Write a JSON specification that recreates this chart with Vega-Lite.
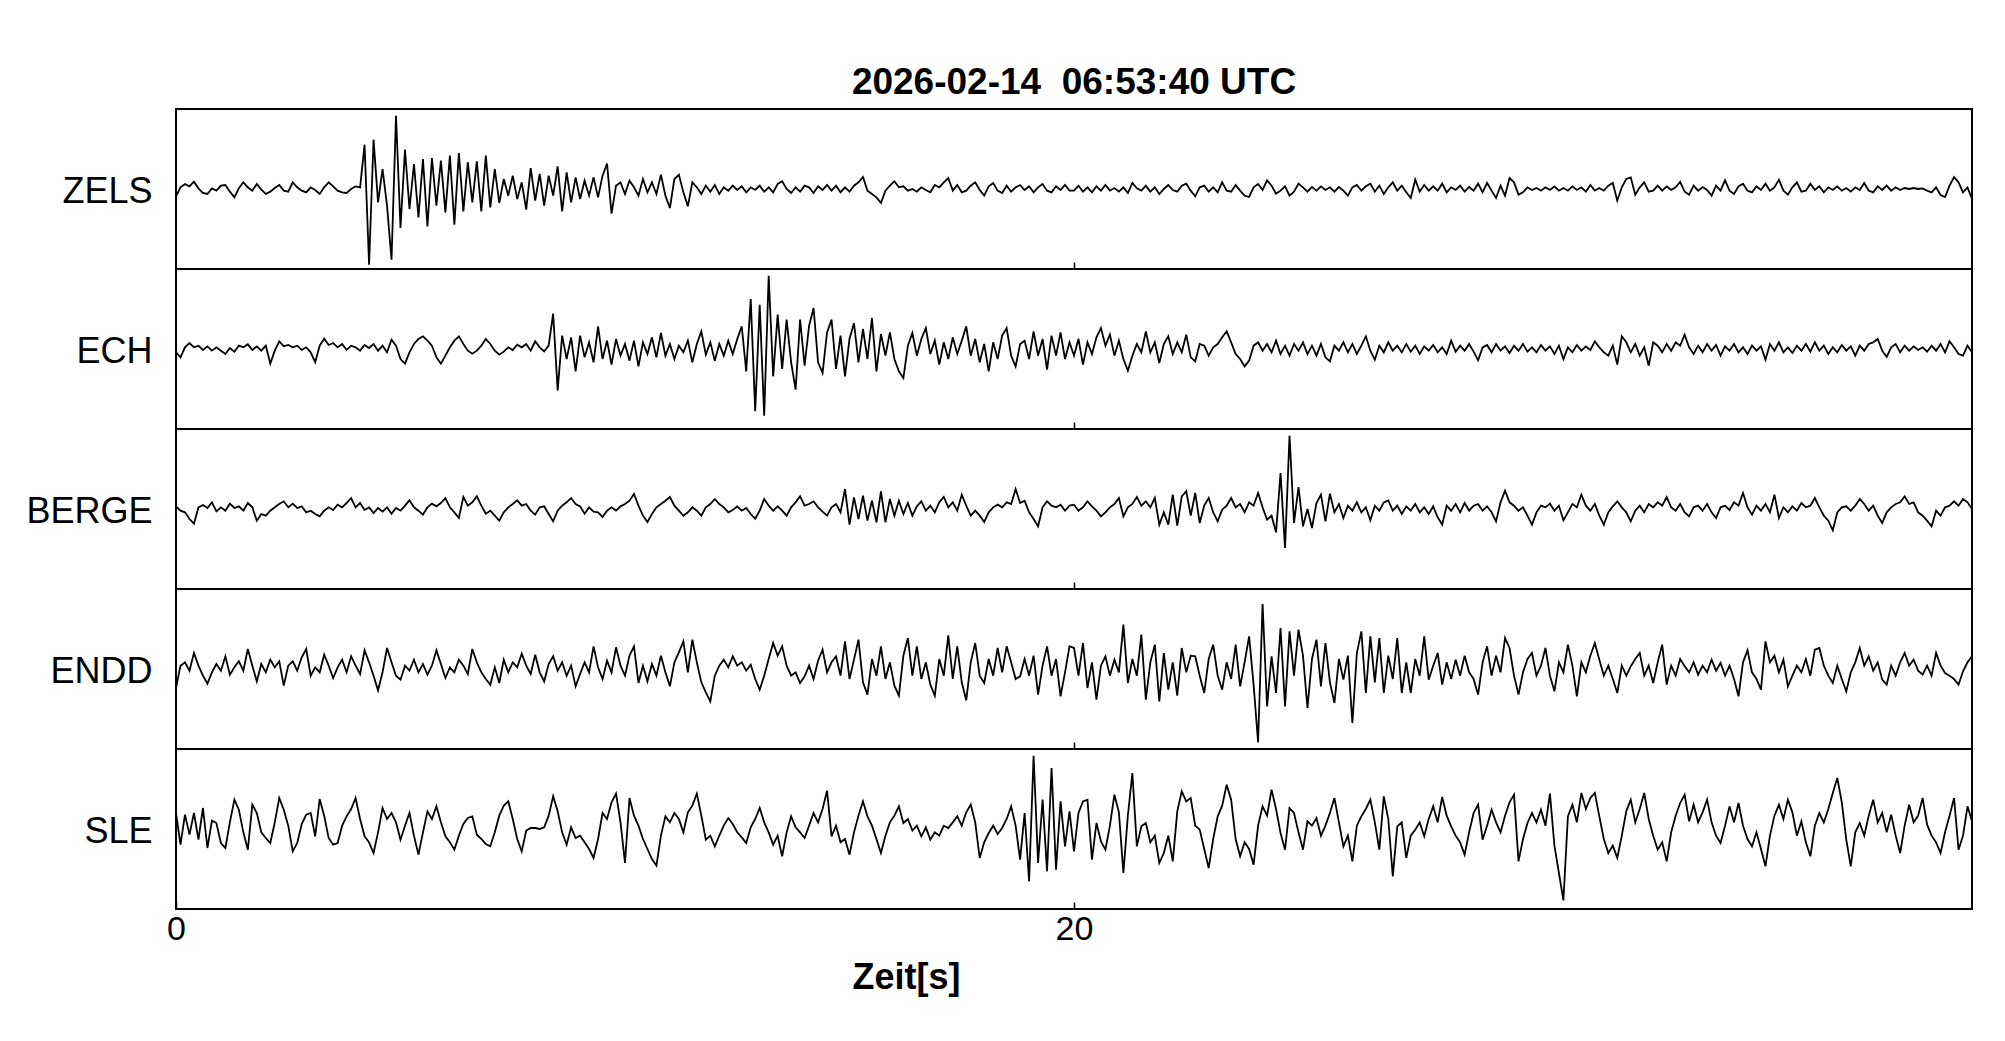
{
"$schema": "https://vega.github.io/schema/vega-lite/v6.json",
"background": "white",
"padding": {"left": 24, "top": 64, "right": 20, "bottom": 20},
"title": {"text": "2026-02-14\u00a0 06:53:40 UTC", "font": "Liberation Sans", "fontSize": 37, "fontWeight": "bold", "color": "black", "anchor": "middle", "frame": "group", "baseline": "alphabetic", "offset": -23},
"datasets": {"w": [
{"t":0,"z":-22,"e":-10,"b":8,"n":-57,"s":48},
{"t":0.1,"z":5,"e":-25,"b":-5,"n":10,"s":-47},
{"t":0.2,"z":15,"e":5,"b":-10,"n":20,"s":43},
{"t":0.3,"z":8,"e":18,"b":-30,"n":-5,"s":-17},
{"t":0.4,"z":22,"e":5,"b":-44,"n":48,"s":48},
{"t":0.5,"z":2,"e":10,"b":5,"n":10,"s":-32},
{"t":0.6,"z":-12,"e":-3,"b":12,"n":-20,"s":63},
{"t":0.7,"z":-15,"e":8,"b":3,"n":-44,"s":-57},
{"t":0.8,"z":2,"e":-5,"b":20,"n":-10,"s":25},
{"t":0.9,"z":-5,"e":5,"b":-7,"n":15,"s":18},
{"t":1,"z":10,"e":-5,"b":5,"n":-5,"s":-42},
{"t":1.1,"z":12,"e":-15,"b":-5,"n":38,"s":-57},
{"t":1.2,"z":-8,"e":3,"b":16,"n":-17,"s":20},
{"t":1.3,"z":-25,"e":-8,"b":3,"n":5,"s":88},
{"t":1.4,"z":2,"e":10,"b":8,"n":23,"s":58},
{"t":1.5,"z":20,"e":5,"b":-5,"n":-5,"s":-10},
{"t":1.6,"z":5,"e":14,"b":18,"n":60,"s":-62},
{"t":1.7,"z":-5,"e":-3,"b":5,"n":10,"s":73},
{"t":1.8,"z":15,"e":8,"b":-35,"n":-37,"s":48},
{"t":1.9,"z":-2,"e":-5,"b":-15,"n":15,"s":-10},
{"t":2,"z":-15,"e":10,"b":-20,"n":-10,"s":-27},
{"t":2.1,"z":-8,"e":-44,"b":-5,"n":28,"s":-42},
{"t":2.2,"z":3,"e":-5,"b":5,"n":5,"s":20},
{"t":2.3,"z":12,"e":23,"b":15,"n":23,"s":93},
{"t":2.4,"z":-5,"e":8,"b":23,"n":-50,"s":58},
{"t":2.5,"z":-8,"e":12,"b":5,"n":10,"s":10},
{"t":2.6,"z":20,"e":5,"b":16,"n":23,"s":-67},
{"t":2.7,"z":5,"e":10,"b":3,"n":-5,"s":-42},
{"t":2.8,"z":-5,"e":-3,"b":8,"n":35,"s":15},
{"t":2.9,"z":-10,"e":5,"b":-10,"n":60,"s":43},
{"t":3,"z":5,"e":-10,"b":-5,"n":-20,"s":48},
{"t":3.1,"z":-3,"e":-40,"b":-15,"n":5,"s":-22},
{"t":3.2,"z":-15,"e":10,"b":-22,"n":-10,"s":90},
{"t":3.3,"z":5,"e":31,"b":-5,"n":43,"s":40},
{"t":3.4,"z":20,"e":12,"b":5,"n":10,"s":-27},
{"t":3.5,"z":8,"e":18,"b":-3,"n":-27,"s":-47},
{"t":3.6,"z":-5,"e":5,"b":13,"n":5,"s":-42},
{"t":3.7,"z":-10,"e":15,"b":5,"n":28,"s":10},
{"t":3.8,"z":-12,"e":-3,"b":18,"n":-10,"s":38},
{"t":3.9,"z":0,"e":10,"b":33,"n":38,"s":60},
{"t":4,"z":8,"e":5,"b":5,"n":10,"s":93},
{"t":4.1,"z":5,"e":-5,"b":18,"n":-15,"s":30},
{"t":4.2,"z":133,"e":12,"b":-3,"n":56,"s":-22},
{"t":4.3,"z":-227,"e":3,"b":5,"n":20,"s":-40},
{"t":4.4,"z":148,"e":15,"b":-12,"n":-20,"s":-72},
{"t":4.5,"z":-40,"e":-5,"b":3,"n":-64,"s":-10},
{"t":4.6,"z":60,"e":10,"b":-8,"n":-10,"s":63},
{"t":4.7,"z":-50,"e":-10,"b":5,"n":63,"s":30},
{"t":4.8,"z":-212,"e":28,"b":-14,"n":20,"s":48},
{"t":4.9,"z":220,"e":10,"b":3,"n":-20,"s":20},
{"t":5,"z":-117,"e":-30,"b":-5,"n":-32,"s":-32},
{"t":5.1,"z":118,"e":-44,"b":10,"n":10,"s":10},
{"t":5.2,"z":-60,"e":-10,"b":26,"n":-5,"s":48},
{"t":5.3,"z":75,"e":15,"b":5,"n":28,"s":-20},
{"t":5.4,"z":-85,"e":30,"b":-5,"n":-10,"s":-77},
{"t":5.5,"z":90,"e":38,"b":-17,"n":15,"s":-10},
{"t":5.6,"z":-112,"e":25,"b":5,"n":-17,"s":53},
{"t":5.7,"z":93,"e":10,"b":16,"n":10,"s":30},
{"t":5.8,"z":-50,"e":-25,"b":8,"n":56,"s":68},
{"t":5.9,"z":85,"e":-44,"b":18,"n":15,"s":20},
{"t":6,"z":-70,"e":-20,"b":33,"n":-27,"s":-22},
{"t":6.1,"z":100,"e":5,"b":5,"n":5,"s":-40},
{"t":6.2,"z":-107,"e":25,"b":-10,"n":-10,"s":-62},
{"t":6.3,"z":108,"e":38,"b":-27,"n":28,"s":-20},
{"t":6.4,"z":-67,"e":15,"b":36,"n":10,"s":15},
{"t":6.5,"z":80,"e":-5,"b":10,"n":-15,"s":33},
{"t":6.6,"z":-40,"e":-14,"b":20,"n":60,"s":38},
{"t":6.7,"z":83,"e":-5,"b":38,"n":20,"s":-17},
{"t":6.8,"z":-67,"e":10,"b":10,"n":-10,"s":-30},
{"t":6.9,"z":100,"e":30,"b":-14,"n":-30,"s":-45},
{"t":7,"z":-55,"e":15,"b":-5,"n":-47,"s":-52},
{"t":7.1,"z":60,"e":-5,"b":-20,"n":5,"s":-10},
{"t":7.2,"z":-42,"e":-17,"b":-35,"n":-42,"s":40},
{"t":7.3,"z":30,"e":-8,"b":-10,"n":28,"s":70},
{"t":7.4,"z":-20,"e":5,"b":5,"n":-10,"s":83},
{"t":7.5,"z":40,"e":-3,"b":15,"n":20,"s":30},
{"t":7.6,"z":-30,"e":13,"b":26,"n":5,"s":-30},
{"t":7.7,"z":20,"e":5,"b":10,"n":46,"s":-67},
{"t":7.8,"z":-62,"e":15,"b":15,"n":10,"s":-5},
{"t":7.9,"z":63,"e":-5,"b":-5,"n":-15,"s":3},
{"t":8,"z":-35,"e":23,"b":-17,"n":43,"s":3},
{"t":8.1,"z":45,"e":5,"b":5,"n":-10,"s":0},
{"t":8.2,"z":-50,"e":-7,"b":8,"n":-37,"s":5},
{"t":8.3,"z":40,"e":10,"b":-15,"n":15,"s":40},
{"t":8.4,"z":-20,"e":106,"b":-37,"n":38,"s":98},
{"t":8.5,"z":68,"e":-124,"b":-5,"n":-5,"s":53},
{"t":8.6,"z":-67,"e":40,"b":10,"n":20,"s":-10},
{"t":8.7,"z":50,"e":-30,"b":20,"n":-20,"s":-47},
{"t":8.8,"z":-40,"e":35,"b":33,"n":10,"s":5},
{"t":8.9,"z":35,"e":-67,"b":15,"n":-52,"s":-27},
{"t":9,"z":-30,"e":40,"b":8,"n":-15,"s":-20},
{"t":9.1,"z":25,"e":-25,"b":-14,"n":20,"s":-40},
{"t":9.2,"z":-20,"e":20,"b":5,"n":-10,"s":-60},
{"t":9.3,"z":35,"e":-40,"b":-8,"n":68,"s":-87},
{"t":9.4,"z":-25,"e":68,"b":-10,"n":5,"s":-30},
{"t":9.5,"z":40,"e":-30,"b":-24,"n":-30,"s":48},
{"t":9.6,"z":76,"e":25,"b":-5,"n":25,"s":30},
{"t":9.7,"z":-74,"e":-47,"b":5,"n":-10,"s":80},
{"t":9.8,"z":10,"e":30,"b":-5,"n":65,"s":106},
{"t":9.9,"z":20,"e":-20,"b":8,"n":10,"s":20},
{"t":10,"z":-15,"e":15,"b":15,"n":-20,"s":-102},
{"t":10.1,"z":25,"e":-35,"b":25,"n":40,"s":93},
{"t":10.2,"z":5,"e":25,"b":45,"n":68,"s":40},
{"t":10.3,"z":-20,"e":-52,"b":10,"n":-42,"s":10},
{"t":10.4,"z":30,"e":20,"b":-20,"n":10,"s":-30},
{"t":10.5,"z":-10,"e":-15,"b":-39,"n":-37,"s":-60},
{"t":10.6,"z":20,"e":35,"b":-15,"n":15,"s":-90},
{"t":10.7,"z":-15,"e":-25,"b":5,"n":-20,"s":-110},
{"t":10.8,"z":43,"e":48,"b":15,"n":40,"s":-20},
{"t":10.9,"z":-20,"e":-20,"b":25,"n":-10,"s":38},
{"t":11,"z":-57,"e":15,"b":36,"n":-52,"s":20},
{"t":11.1,"z":30,"e":-30,"b":10,"n":20,"s":48},
{"t":11.2,"z":43,"e":10,"b":-5,"n":50,"s":30},
{"t":11.3,"z":-10,"e":-10,"b":-20,"n":83,"s":-10},
{"t":11.4,"z":-52,"e":25,"b":-10,"n":-10,"s":50},
{"t":11.5,"z":20,"e":-40,"b":5,"n":88,"s":70},
{"t":11.6,"z":5,"e":15,"b":-5,"n":20,"s":106},
{"t":11.7,"z":-15,"e":53,"b":-20,"n":-40,"s":40},
{"t":11.8,"z":10,"e":-17,"b":5,"n":-70,"s":-32},
{"t":11.9,"z":-8,"e":20,"b":15,"n":-97,"s":-20},
{"t":12,"z":12,"e":-35,"b":30,"n":-20,"s":-52},
{"t":12.1,"z":-15,"e":15,"b":15,"n":10,"s":-20},
{"t":12.2,"z":5,"e":-20,"b":5,"n":28,"s":10},
{"t":12.3,"z":-5,"e":25,"b":-10,"n":5,"s":33},
{"t":12.4,"z":10,"e":-15,"b":-3,"n":38,"s":15},
{"t":12.5,"z":-3,"e":30,"b":8,"n":10,"s":-10},
{"t":12.6,"z":8,"e":68,"b":-5,"n":20,"s":-25},
{"t":12.7,"z":-10,"e":-67,"b":3,"n":-5,"s":-42},
{"t":12.8,"z":5,"e":150,"b":-15,"n":13,"s":5},
{"t":12.9,"z":-3,"e":-187,"b":-29,"n":-30,"s":30},
{"t":13,"z":10,"e":133,"b":-5,"n":-62,"s":63},
{"t":13.1,"z":-8,"e":-200,"b":30,"n":-20,"s":20},
{"t":13.2,"z":5,"e":220,"b":10,"n":30,"s":-10},
{"t":13.3,"z":-10,"e":-82,"b":-5,"n":78,"s":-47},
{"t":13.4,"z":15,"e":103,"b":8,"n":40,"s":-20},
{"t":13.5,"z":23,"e":-60,"b":-5,"n":68,"s":-82},
{"t":13.6,"z":0,"e":88,"b":-20,"n":10,"s":-10},
{"t":13.7,"z":-12,"e":-40,"b":5,"n":-20,"s":38},
{"t":13.8,"z":5,"e":-122,"b":20,"n":-10,"s":5},
{"t":13.9,"z":-8,"e":88,"b":38,"n":-42,"s":-10},
{"t":14,"z":10,"e":-50,"b":10,"n":-22,"s":-27},
{"t":14.1,"z":5,"e":70,"b":15,"n":10,"s":10},
{"t":14.2,"z":-12,"e":123,"b":23,"n":-30,"s":48},
{"t":14.3,"z":8,"e":-40,"b":5,"n":25,"s":20},
{"t":14.4,"z":-3,"e":-72,"b":-8,"n":58,"s":60},
{"t":14.5,"z":12,"e":50,"b":-20,"n":-10,"s":115},
{"t":14.6,"z":-5,"e":88,"b":5,"n":20,"s":-22},
{"t":14.7,"z":10,"e":-60,"b":15,"n":38,"s":10},
{"t":14.8,"z":-10,"e":40,"b":-10,"n":-20,"s":-40},
{"t":14.9,"z":5,"e":-82,"b":60,"n":83,"s":-30},
{"t":15,"z":-8,"e":30,"b":-47,"n":-30,"s":-77},
{"t":15.1,"z":10,"e":78,"b":35,"n":28,"s":-10},
{"t":15.2,"z":20,"e":-40,"b":-30,"n":88,"s":40},
{"t":15.3,"z":36,"e":60,"b":40,"n":-40,"s":83},
{"t":15.4,"z":-5,"e":-30,"b":-35,"n":-77,"s":38},
{"t":15.5,"z":-15,"e":93,"b":25,"n":30,"s":10},
{"t":15.6,"z":-25,"e":-67,"b":-40,"n":-20,"s":-30},
{"t":15.7,"z":-42,"e":45,"b":53,"n":68,"s":-72},
{"t":15.8,"z":-5,"e":-20,"b":-40,"n":-30,"s":-20},
{"t":15.9,"z":10,"e":50,"b":30,"n":20,"s":20},
{"t":16,"z":23,"e":-30,"b":-20,"n":-50,"s":40},
{"t":16.1,"z":5,"e":-67,"b":25,"n":-80,"s":68},
{"t":16.2,"z":8,"e":-87,"b":-15,"n":40,"s":18},
{"t":16.3,"z":-5,"e":10,"b":18,"n":93,"s":30},
{"t":16.4,"z":0,"e":48,"b":-20,"n":-20,"s":-5},
{"t":16.5,"z":-8,"e":-20,"b":8,"n":68,"s":10},
{"t":16.6,"z":5,"e":30,"b":23,"n":-30,"s":-22},
{"t":16.7,"z":-3,"e":63,"b":-5,"n":20,"s":5},
{"t":16.8,"z":-10,"e":-15,"b":10,"n":-47,"s":-32},
{"t":16.9,"z":12,"e":25,"b":-10,"n":-80,"s":-10},
{"t":17,"z":5,"e":-47,"b":20,"n":30,"s":-20},
{"t":17.1,"z":20,"e":20,"b":36,"n":-20,"s":10},
{"t":17.2,"z":33,"e":-30,"b":5,"n":101,"s":3},
{"t":17.3,"z":-5,"e":35,"b":20,"n":-30,"s":20},
{"t":17.4,"z":12,"e":-15,"b":-5,"n":68,"s":38},
{"t":17.5,"z":-10,"e":25,"b":43,"n":-40,"s":10},
{"t":17.6,"z":-5,"e":68,"b":10,"n":-94,"s":50},
{"t":17.7,"z":10,"e":-20,"b":-20,"n":20,"s":73},
{"t":17.8,"z":20,"e":30,"b":-5,"n":78,"s":20},
{"t":17.9,"z":-3,"e":-40,"b":-20,"n":-20,"s":-87},
{"t":18,"z":-20,"e":15,"b":-39,"n":-42,"s":-40},
{"t":18.1,"z":8,"e":-67,"b":-10,"n":30,"s":-12},
{"t":18.2,"z":18,"e":20,"b":5,"n":-20,"s":10},
{"t":18.3,"z":-5,"e":-30,"b":13,"n":63,"s":-15},
{"t":18.4,"z":-12,"e":40,"b":5,"n":-10,"s":3},
{"t":18.5,"z":10,"e":63,"b":20,"n":68,"s":30},
{"t":18.6,"z":-8,"e":-20,"b":15,"n":20,"s":68},
{"t":18.7,"z":5,"e":-52,"b":60,"n":-30,"s":10},
{"t":18.8,"z":12,"e":15,"b":18,"n":-22,"s":-92},
{"t":18.9,"z":-3,"e":25,"b":25,"n":30,"s":48},
{"t":19,"z":8,"e":-30,"b":-10,"n":-20,"s":-157},
{"t":19.1,"z":-10,"e":53,"b":-30,"n":40,"s":220},
{"t":19.2,"z":5,"e":-20,"b":-52,"n":-77,"s":-102},
{"t":19.3,"z":15,"e":30,"b":5,"n":10,"s":88},
{"t":19.4,"z":-5,"e":-62,"b":23,"n":68,"s":-127},
{"t":19.5,"z":-10,"e":40,"b":10,"n":-20,"s":183},
{"t":19.6,"z":8,"e":-20,"b":5,"n":30,"s":-122},
{"t":19.7,"z":-3,"e":50,"b":13,"n":-82,"s":83},
{"t":19.8,"z":12,"e":-30,"b":-5,"n":-10,"s":-52},
{"t":19.9,"z":-5,"e":20,"b":10,"n":68,"s":53},
{"t":20,"z":-5,"e":-20,"b":13,"n":63,"s":-67},
{"t":20.1,"z":10,"e":30,"b":-5,"n":-20,"s":48},
{"t":20.2,"z":-8,"e":-47,"b":5,"n":78,"s":83},
{"t":20.3,"z":5,"e":20,"b":23,"n":-57,"s":88},
{"t":20.4,"z":-10,"e":-15,"b":8,"n":20,"s":-92},
{"t":20.5,"z":8,"e":35,"b":-5,"n":-92,"s":18},
{"t":20.6,"z":-5,"e":63,"b":-22,"n":10,"s":-37},
{"t":20.7,"z":12,"e":10,"b":-10,"n":38,"s":-62},
{"t":20.8,"z":-5,"e":43,"b":5,"n":-20,"s":10},
{"t":20.9,"z":3,"e":-20,"b":15,"n":28,"s":103},
{"t":21,"z":-8,"e":25,"b":33,"n":-10,"s":50},
{"t":21.1,"z":5,"e":-30,"b":-22,"n":133,"s":-132},
{"t":21.2,"z":-12,"e":-65,"b":5,"n":-42,"s":40},
{"t":21.3,"z":18,"e":-20,"b":15,"n":30,"s":168},
{"t":21.4,"z":2,"e":15,"b":36,"n":-20,"s":-52},
{"t":21.5,"z":-5,"e":-10,"b":10,"n":103,"s":8},
{"t":21.6,"z":10,"e":53,"b":23,"n":-92,"s":18},
{"t":21.7,"z":-8,"e":-10,"b":5,"n":20,"s":-40},
{"t":21.8,"z":5,"e":20,"b":33,"n":73,"s":-20},
{"t":21.9,"z":-15,"e":-42,"b":-47,"n":-97,"s":-102},
{"t":22,"z":0,"e":15,"b":-10,"n":48,"s":-72},
{"t":22.1,"z":12,"e":38,"b":-47,"n":-62,"s":-20},
{"t":22.2,"z":-3,"e":-15,"b":43,"n":20,"s":-97},
{"t":22.3,"z":-8,"e":20,"b":-50,"n":-80,"s":53},
{"t":22.4,"z":10,"e":-10,"b":38,"n":63,"s":113},
{"t":22.5,"z":16,"e":43,"b":53,"n":-10,"s":83},
{"t":22.6,"z":-5,"e":-25,"b":-20,"n":40,"s":93},
{"t":22.7,"z":-22,"e":-37,"b":48,"n":38,"s":10},
{"t":22.8,"z":5,"e":15,"b":-42,"n":-20,"s":-2},
{"t":22.9,"z":10,"e":10,"b":10,"n":-72,"s":-60},
{"t":23,"z":-8,"e":-20,"b":33,"n":30,"s":-117},
{"t":23.1,"z":5,"e":5,"b":-10,"n":73,"s":-30},
{"t":23.2,"z":-10,"e":15,"b":-37,"n":-20,"s":38},
{"t":23.3,"z":20,"e":35,"b":-2,"n":-62,"s":70},
{"t":23.4,"z":-5,"e":53,"b":10,"n":20,"s":133},
{"t":23.5,"z":-8,"e":20,"b":33,"n":-30,"s":88},
{"t":23.6,"z":12,"e":-15,"b":5,"n":73,"s":-30},
{"t":23.7,"z":-5,"e":-30,"b":15,"n":-52,"s":-82},
{"t":23.8,"z":-20,"e":-52,"b":-10,"n":20,"s":-40},
{"t":23.9,"z":-24,"e":-35,"b":20,"n":98,"s":-60},
{"t":24,"z":5,"e":10,"b":10,"n":-47,"s":-107},
{"t":24.1,"z":15,"e":20,"b":48,"n":-220,"s":10},
{"t":24.2,"z":-3,"e":-5,"b":5,"n":195,"s":68},
{"t":24.3,"z":26,"e":15,"b":-32,"n":-112,"s":40},
{"t":24.4,"z":10,"e":-10,"b":-20,"n":38,"s":118},
{"t":24.5,"z":-14,"e":25,"b":-70,"n":-72,"s":60},
{"t":24.6,"z":-5,"e":-15,"b":108,"n":123,"s":-12},
{"t":24.7,"z":8,"e":10,"b":-117,"n":-112,"s":-62},
{"t":24.8,"z":-20,"e":-20,"b":220,"n":113,"s":63},
{"t":24.9,"z":-8,"e":15,"b":-42,"n":-20,"s":48},
{"t":25,"z":16,"e":-5,"b":66,"n":118,"s":-10},
{"t":25.1,"z":5,"e":20,"b":-52,"n":40,"s":-62},
{"t":25.2,"z":-8,"e":-15,"b":0,"n":-117,"s":23},
{"t":25.3,"z":6,"e":10,"b":-57,"n":30,"s":10},
{"t":25.4,"z":-5,"e":-20,"b":18,"n":88,"s":33},
{"t":25.5,"z":8,"e":15,"b":43,"n":-52,"s":-20},
{"t":25.6,"z":-3,"e":-25,"b":-37,"n":78,"s":10},
{"t":25.7,"z":5,"e":-37,"b":46,"n":-40,"s":48},
{"t":25.8,"z":-8,"e":10,"b":-10,"n":-102,"s":93},
{"t":25.9,"z":6,"e":-5,"b":15,"n":30,"s":20},
{"t":26,"z":-5,"e":20,"b":-27,"n":-32,"s":-52},
{"t":26.1,"z":-20,"e":-10,"b":10,"n":40,"s":-20},
{"t":26.2,"z":5,"e":15,"b":-5,"n":-162,"s":-97},
{"t":26.3,"z":12,"e":-15,"b":20,"n":48,"s":10},
{"t":26.4,"z":-5,"e":10,"b":-10,"n":113,"s":38},
{"t":26.5,"z":8,"e":38,"b":5,"n":-72,"s":60},
{"t":26.6,"z":16,"e":-5,"b":-34,"n":98,"s":88},
{"t":26.7,"z":-8,"e":-32,"b":10,"n":-40,"s":20},
{"t":26.8,"z":10,"e":10,"b":-5,"n":93,"s":-62},
{"t":26.9,"z":-15,"e":-10,"b":20,"n":-72,"s":98},
{"t":27,"z":5,"e":20,"b":26,"n":40,"s":30},
{"t":27.1,"z":20,"e":-5,"b":-5,"n":-30,"s":-142},
{"t":27.2,"z":-5,"e":10,"b":10,"n":93,"s":8},
{"t":27.3,"z":10,"e":-10,"b":-15,"n":-72,"s":20},
{"t":27.4,"z":-10,"e":15,"b":8,"n":20,"s":-87},
{"t":27.5,"z":-27,"e":-8,"b":-5,"n":-72,"s":-20},
{"t":27.6,"z":28,"e":10,"b":15,"n":30,"s":-2},
{"t":27.7,"z":-8,"e":-15,"b":-10,"n":-20,"s":20},
{"t":27.8,"z":12,"e":8,"b":5,"n":98,"s":-22},
{"t":27.9,"z":-5,"e":-5,"b":-15,"n":-32,"s":30},
{"t":28,"z":8,"e":12,"b":8,"n":10,"s":68},
{"t":28.1,"z":-5,"e":-10,"b":-25,"n":48,"s":20},
{"t":28.2,"z":16,"e":5,"b":-47,"n":-47,"s":96},
{"t":28.3,"z":-10,"e":-15,"b":10,"n":20,"s":40},
{"t":28.4,"z":5,"e":25,"b":-5,"n":-30,"s":8},
{"t":28.5,"z":-3,"e":-8,"b":15,"n":28,"s":-20},
{"t":28.6,"z":10,"e":10,"b":-10,"n":-20,"s":-40},
{"t":28.7,"z":-8,"e":-5,"b":18,"n":40,"s":-77},
{"t":28.8,"z":6,"e":15,"b":-5,"n":-10,"s":-10},
{"t":28.9,"z":-5,"e":-8,"b":10,"n":-30,"s":48},
{"t":29,"z":16,"e":-34,"b":15,"n":-77,"s":73},
{"t":29.1,"z":-10,"e":5,"b":-5,"n":20,"s":-32},
{"t":29.2,"z":18,"e":12,"b":8,"n":68,"s":10},
{"t":29.3,"z":-5,"e":-10,"b":-10,"n":-20,"s":58},
{"t":29.4,"z":-27,"e":15,"b":-37,"n":40,"s":20},
{"t":29.5,"z":10,"e":-5,"b":20,"n":-10,"s":-10},
{"t":29.6,"z":-20,"e":8,"b":55,"n":93,"s":40},
{"t":29.7,"z":33,"e":-12,"b":20,"n":63,"s":80},
{"t":29.8,"z":20,"e":10,"b":10,"n":-20,"s":103},
{"t":29.9,"z":-17,"e":-5,"b":-5,"n":-77,"s":-97},
{"t":30,"z":-10,"e":15,"b":5,"n":-10,"s":-30},
{"t":30.1,"z":5,"e":-8,"b":-20,"n":30,"s":18},
{"t":30.2,"z":-3,"e":5,"b":-47,"n":48,"s":48},
{"t":30.3,"z":3,"e":-10,"b":-10,"n":-20,"s":20},
{"t":30.4,"z":-5,"e":12,"b":10,"n":10,"s":58},
{"t":30.5,"z":5,"e":-5,"b":5,"n":63,"s":10},
{"t":30.6,"z":-3,"e":8,"b":16,"n":-20,"s":106},
{"t":30.7,"z":8,"e":-15,"b":-5,"n":-67,"s":-50},
{"t":30.8,"z":-5,"e":10,"b":10,"n":20,"s":-132},
{"t":30.9,"z":3,"e":-30,"b":-34,"n":-10,"s":-214},
{"t":31,"z":-5,"e":5,"b":-10,"n":73,"s":38},
{"t":31.1,"z":8,"e":-10,"b":15,"n":10,"s":73},
{"t":31.2,"z":-3,"e":12,"b":5,"n":-82,"s":20},
{"t":31.3,"z":5,"e":-5,"b":43,"n":20,"s":108},
{"t":31.4,"z":-8,"e":8,"b":10,"n":-10,"s":60},
{"t":31.5,"z":12,"e":-3,"b":-5,"n":40,"s":93},
{"t":31.6,"z":-5,"e":23,"b":15,"n":78,"s":108},
{"t":31.7,"z":3,"e":5,"b":-20,"n":28,"s":38},
{"t":31.8,"z":-5,"e":-10,"b":-47,"n":-20,"s":-30},
{"t":31.9,"z":10,"e":-20,"b":-10,"n":10,"s":-72},
{"t":32,"z":18,"e":10,"b":8,"n":-30,"s":-50},
{"t":32.1,"z":-35,"e":-47,"b":23,"n":-72,"s":-87},
{"t":32.2,"z":5,"e":38,"b":5,"n":10,"s":-20},
{"t":32.3,"z":30,"e":20,"b":-10,"n":-20,"s":53},
{"t":32.4,"z":35,"e":-10,"b":-37,"n":8,"s":88},
{"t":32.5,"z":-17,"e":15,"b":-5,"n":30,"s":20},
{"t":32.6,"z":5,"e":-20,"b":10,"n":48,"s":60},
{"t":32.7,"z":20,"e":5,"b":-10,"n":-20,"s":108},
{"t":32.8,"z":-8,"e":-50,"b":15,"n":10,"s":30},
{"t":32.9,"z":-5,"e":20,"b":5,"n":-42,"s":-20},
{"t":33,"z":10,"e":10,"b":20,"n":20,"s":-62},
{"t":33.1,"z":-5,"e":-10,"b":10,"n":73,"s":-40},
{"t":33.2,"z":8,"e":15,"b":36,"n":-47,"s":-97},
{"t":33.3,"z":-3,"e":-5,"b":5,"n":10,"s":-10},
{"t":33.4,"z":5,"e":20,"b":-5,"n":-20,"s":40},
{"t":33.5,"z":21,"e":10,"b":15,"n":30,"s":78},
{"t":33.6,"z":-8,"e":43,"b":-10,"n":8,"s":103},
{"t":33.7,"z":-17,"e":5,"b":-22,"n":-10,"s":23},
{"t":33.8,"z":10,"e":-15,"b":5,"n":20,"s":73},
{"t":33.9,"z":-5,"e":10,"b":10,"n":-17,"s":20},
{"t":34,"z":6,"e":-10,"b":-5,"n":10,"s":50},
{"t":34.1,"z":-3,"e":15,"b":15,"n":-10,"s":88},
{"t":34.2,"z":-20,"e":-5,"b":-10,"n":28,"s":20},
{"t":34.3,"z":10,"e":12,"b":-27,"n":-5,"s":-20},
{"t":34.4,"z":-5,"e":-20,"b":5,"n":18,"s":-42},
{"t":34.5,"z":26,"e":8,"b":10,"n":-20,"s":10},
{"t":34.6,"z":-5,"e":-5,"b":-3,"n":10,"s":68},
{"t":34.7,"z":-15,"e":15,"b":20,"n":-30,"s":20},
{"t":34.8,"z":8,"e":-10,"b":10,"n":-82,"s":78},
{"t":34.9,"z":16,"e":5,"b":48,"n":20,"s":10},
{"t":35,"z":-5,"e":-15,"b":5,"n":56,"s":-30},
{"t":35.1,"z":-10,"e":10,"b":-17,"n":-10,"s":-52},
{"t":35.2,"z":8,"e":-5,"b":10,"n":-30,"s":-10},
{"t":35.3,"z":-3,"e":8,"b":-5,"n":-62,"s":-60},
{"t":35.4,"z":16,"e":-32,"b":15,"n":83,"s":-112},
{"t":35.5,"z":-5,"e":15,"b":-10,"n":20,"s":-20},
{"t":35.6,"z":5,"e":-5,"b":43,"n":40,"s":40},
{"t":35.7,"z":28,"e":20,"b":-27,"n":-10,"s":73},
{"t":35.8,"z":-5,"e":-10,"b":5,"n":28,"s":30},
{"t":35.9,"z":-17,"e":5,"b":-10,"n":-52,"s":88},
{"t":36,"z":5,"e":-12,"b":8,"n":-20,"s":50},
{"t":36.1,"z":20,"e":10,"b":-5,"n":10,"s":-20},
{"t":36.2,"z":-8,"e":-5,"b":18,"n":-10,"s":23},
{"t":36.3,"z":-5,"e":15,"b":5,"n":30,"s":-40},
{"t":36.4,"z":16,"e":-8,"b":10,"n":-20,"s":-82},
{"t":36.5,"z":-3,"e":20,"b":33,"n":58,"s":10},
{"t":36.6,"z":8,"e":-5,"b":5,"n":63,"s":48},
{"t":36.7,"z":-10,"e":10,"b":-20,"n":10,"s":20},
{"t":36.8,"z":5,"e":-15,"b":-35,"n":-20,"s":60},
{"t":36.9,"z":-3,"e":5,"b":-64,"n":-42,"s":108},
{"t":37,"z":8,"e":-10,"b":-10,"n":10,"s":153},
{"t":37.1,"z":-5,"e":12,"b":5,"n":-30,"s":80},
{"t":37.2,"z":3,"e":-5,"b":8,"n":-67,"s":-32},
{"t":37.3,"z":-8,"e":8,"b":-5,"n":-10,"s":-112},
{"t":37.4,"z":5,"e":-20,"b":10,"n":20,"s":-10},
{"t":37.5,"z":-3,"e":10,"b":30,"n":63,"s":18},
{"t":37.6,"z":18,"e":-5,"b":15,"n":10,"s":-20},
{"t":37.7,"z":-5,"e":15,"b":-5,"n":38,"s":40},
{"t":37.8,"z":-10,"e":20,"b":10,"n":-5,"s":88},
{"t":37.9,"z":8,"e":30,"b":-20,"n":20,"s":20},
{"t":38,"z":-3,"e":-5,"b":-42,"n":-32,"s":48},
{"t":38.1,"z":10,"e":-24,"b":-10,"n":-47,"s":-10},
{"t":38.2,"z":-5,"e":5,"b":5,"n":10,"s":43},
{"t":38.3,"z":5,"e":15,"b":15,"n":-20,"s":-20},
{"t":38.4,"z":-3,"e":-10,"b":20,"n":20,"s":-72},
{"t":38.5,"z":3,"e":10,"b":38,"n":48,"s":10},
{"t":38.6,"z":0,"e":-5,"b":15,"n":10,"s":73},
{"t":38.7,"z":3,"e":8,"b":20,"n":28,"s":20},
{"t":38.8,"z":0,"e":-3,"b":-10,"n":-5,"s":40},
{"t":38.9,"z":2,"e":5,"b":-20,"n":-17,"s":93},
{"t":39,"z":-5,"e":-8,"b":-35,"n":10,"s":13},
{"t":39.1,"z":-10,"e":10,"b":-52,"n":-20,"s":-20},
{"t":39.2,"z":5,"e":-5,"b":-5,"n":48,"s":-40},
{"t":39.3,"z":-18,"e":15,"b":-20,"n":10,"s":-72},
{"t":39.4,"z":-24,"e":-10,"b":5,"n":-12,"s":-10},
{"t":39.5,"z":10,"e":23,"b":10,"n":-20,"s":40},
{"t":39.6,"z":36,"e":5,"b":23,"n":-30,"s":93},
{"t":39.7,"z":20,"e":-15,"b":10,"n":-47,"s":-62},
{"t":39.8,"z":-10,"e":-20,"b":30,"n":-7,"s":-20},
{"t":39.9,"z":5,"e":10,"b":20,"n":20,"s":68},
{"t":40,"z":-30,"e":-10,"b":0,"n":38,"s":23}
]},
"data": {"name": "w"},
"spacing": 0,
"bounds": "flush",
"vconcat": [
{"width": 1796, "height": 160,
 "mark": {"type": "line", "clip": true},
 "encoding": {
  "x": {"field": "t", "type": "quantitative", "scale": {"domain": [0, 40], "nice": false, "zero": false}, "axis": {"title": null, "labels": false, "domain": false, "grid": false, "values": [20], "tickSize": -7, "tickWidth": 1.5, "tickColor": "black"}},
  "y": {"field": "z", "type": "quantitative", "scale": {"domain": [-240, 240], "nice": false}, "axis": {"title": "ZELS", "labels": false, "ticks": false, "domain": false, "grid": false, "titleAngle": 0, "titleAlign": "right", "titleBaseline": "alphabetic", "titleX": -24, "titleY": 93}}
 }},
{"width": 1796, "height": 160,
 "mark": {"type": "line", "clip": true},
 "encoding": {
  "x": {"field": "t", "type": "quantitative", "scale": {"domain": [0, 40], "nice": false, "zero": false}, "axis": {"title": null, "labels": false, "domain": false, "grid": false, "values": [20], "tickSize": -7, "tickWidth": 1.5, "tickColor": "black"}},
  "y": {"field": "e", "type": "quantitative", "scale": {"domain": [-240, 240], "nice": false}, "axis": {"title": "ECH", "labels": false, "ticks": false, "domain": false, "grid": false, "titleAngle": 0, "titleAlign": "right", "titleBaseline": "alphabetic", "titleX": -24, "titleY": 93}}
 }},
{"width": 1796, "height": 160,
 "mark": {"type": "line", "clip": true},
 "encoding": {
  "x": {"field": "t", "type": "quantitative", "scale": {"domain": [0, 40], "nice": false, "zero": false}, "axis": {"title": null, "labels": false, "domain": false, "grid": false, "values": [20], "tickSize": -7, "tickWidth": 1.5, "tickColor": "black"}},
  "y": {"field": "b", "type": "quantitative", "scale": {"domain": [-240, 240], "nice": false}, "axis": {"title": "BERGE", "labels": false, "ticks": false, "domain": false, "grid": false, "titleAngle": 0, "titleAlign": "right", "titleBaseline": "alphabetic", "titleX": -24, "titleY": 93}}
 }},
{"width": 1796, "height": 160,
 "mark": {"type": "line", "clip": true},
 "encoding": {
  "x": {"field": "t", "type": "quantitative", "scale": {"domain": [0, 40], "nice": false, "zero": false}, "axis": {"title": null, "labels": false, "domain": false, "grid": false, "values": [20], "tickSize": -7, "tickWidth": 1.5, "tickColor": "black"}},
  "y": {"field": "n", "type": "quantitative", "scale": {"domain": [-240, 240], "nice": false}, "axis": {"title": "ENDD", "labels": false, "ticks": false, "domain": false, "grid": false, "titleAngle": 0, "titleAlign": "right", "titleBaseline": "alphabetic", "titleX": -24, "titleY": 93}}
 }},
{"width": 1796, "height": 160,
 "mark": {"type": "line", "clip": true},
 "encoding": {
  "x": {"field": "t", "type": "quantitative", "scale": {"domain": [0, 40], "nice": false, "zero": false}, "axis": {"title": "Zeit[s]", "labels": true, "labelFlush": false, "labelFontSize": 34, "labelPadding": 10, "domain": false, "grid": false, "values": [0, 20], "tickSize": -7, "tickWidth": 1.5, "tickColor": "black", "titleFontSize": 36, "titleFontWeight": "bold", "titleX": 730, "titleY": 79, "titleAlign": "center", "titleBaseline": "alphabetic"}},
  "y": {"field": "s", "type": "quantitative", "scale": {"domain": [-240, 240], "nice": false}, "axis": {"title": "SLE", "labels": false, "ticks": false, "domain": false, "grid": false, "titleAngle": 0, "titleAlign": "right", "titleBaseline": "alphabetic", "titleX": -24, "titleY": 93}}
 }}
],
"config": {
 "font": "Liberation Sans",
 "view": {"stroke": "black", "strokeWidth": 2},
 "line": {"color": "black", "strokeWidth": 1.8},
 "axis": {"labelColor": "black", "titleColor": "black", "labelFont": "Liberation Sans", "titleFont": "Liberation Sans", "titleFontSize": 36, "titleFontWeight": "normal", "grid": false}
}
}
